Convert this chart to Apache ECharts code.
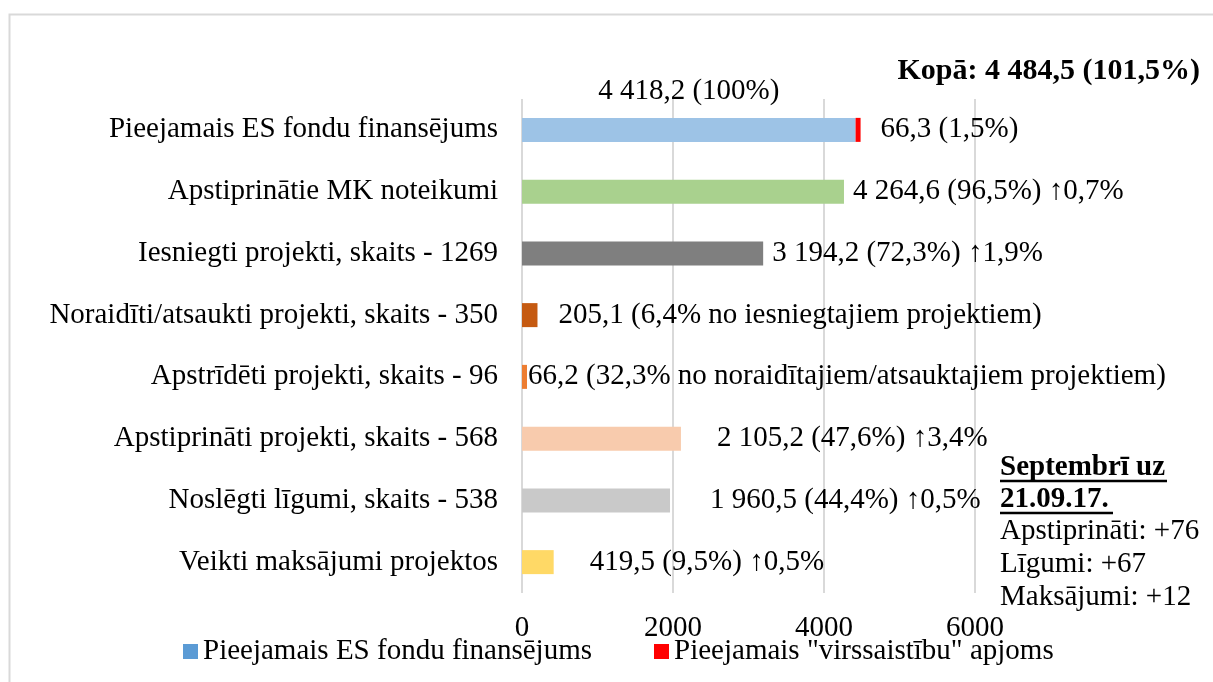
<!DOCTYPE html>
<html>
<head>
<meta charset="utf-8">
<script src="https://cdn.jsdelivr.net/npm/echarts@6/dist/echarts.min.js"></script>
<style>
html,body{margin:0;padding:0;background:#fff;}
#chart{width:1213px;height:682px;}
</style>
</head>
<body>
<div id="chart"></div>
<script>
const categories = [
  'Pieejamais ES fondu finansējums',
  'Apstiprinātie MK noteikumi',
  'Iesniegti projekti, skaits - 1269',
  'Noraidīti/atsaukti projekti, skaits - 350',
  'Apstrīdēti projekti, skaits - 96',
  'Apstiprināti projekti, skaits - 568',
  'Noslēgti līgumi, skaits - 538',
  'Veikti maksājumi projektos'
];
const mainValues = [4418.2, 4264.6, 3194.2, 205.1, 66.2, 2105.2, 1960.5, 419.5];
const overValues = [66.3, null, null, null, null, null, null, null];
const mainLabels = [
  '4 418,2 (100%)',
  '4 264,6 (96,5%) ↑0,7%',
  '3 194,2 (72,3%) ↑1,9%',
  '205,1 (6,4% no iesniegtajiem projektiem)',
  '66,2 (32,3% no noraidītajiem/atsauktajiem projektiem)',
  '2 105,2 (47,6%) ↑3,4%',
  '1 960,5 (44,4%) ↑0,5%',
  '419,5 (9,5%) ↑0,5%'
];
const overLabel = '66,3 (1,5%)';
const seriesNames = ['Pieejamais ES fondu finansējums', 'Pieejamais "virssaistību" apjoms'];
const totalText = 'Kopā: 4 484,5 (101,5%)';
const noteHead = ['Septembrī uz', '21.09.17.'];
const noteLines = ['Apstiprināti: +76', 'Līgumi: +67', 'Maksājumi: +12'];
const xTicks = {min: 0, max: 6000, interval: 2000};

// styling (not data)
const barColors = ['#9DC3E6', '#A9D18E', '#7F7F7F', '#C55A11', '#ED7D31', '#F8CBAD', '#C9C9C9', '#FFD966'];
const labelGaps = [12, 9, 9, 21, 1, 36, 40, 36];
const FONT = '"Liberation Serif", "Times New Roman", serif';
const FS = 29;

const mainData = mainValues.map((v, i) => ({
  value: v,
  itemStyle: {color: barColors[i]},
  label: {
    show: true,
    position: i === 0 ? 'top' : 'right',
    distance: labelGaps[i],
    formatter: mainLabels[i]
  }
}));
const overData = overValues.map(v => v == null ? {value: null} : {
  value: v,
  label: {show: true, position: 'right', distance: 20, formatter: overLabel}
});

const chart = echarts.init(document.getElementById('chart'), null, {renderer: 'canvas'});
const graphics = [
  {type: 'rect', left: 7, top: 12, shape: {width: 1300, height: 800},
   style: {fill: 'none', stroke: '#D9D9D9', lineWidth: 2}, silent: true, z: -1},
  {type: 'text', right: 13, top: 56,
   style: {text: totalText, font: 'bold 30px ' + FONT, fill: '#000'}},
];
noteHead.forEach((t, i) => {
  graphics.push({type: 'text', left: 1000, top: 453 + i * 32,
    style: {text: t, font: 'bold ' + FS + 'px ' + FONT, fill: '#000'}});
});
// underline for bold header lines
graphics.push({type: 'line', shape: {x1: 1000, y1: 481, x2: 1167, y2: 481}, style: {stroke: '#000', lineWidth: 2.5}});
graphics.push({type: 'line', shape: {x1: 1000, y1: 513, x2: 1113, y2: 513}, style: {stroke: '#000', lineWidth: 2.5}});
noteLines.forEach((t, i) => {
  graphics.push({type: 'text', left: 1000, top: 517 + i * 33,
    style: {text: t, font: FS + 'px ' + FONT, fill: '#000'}});
});

chart.setOption({
  animation: false,
  backgroundColor: '#fff',
  textStyle: {fontFamily: FONT},
  grid: {left: 522, right: 238, top: 99, height: 494, containLabel: false},
  legend: {
    data: seriesNames,
    left: 178, top: 632,
    itemWidth: 15, itemHeight: 15, itemGap: 62,
    icon: 'rect',
    textStyle: {fontFamily: FONT, fontSize: FS, color: '#000'}
  },
  xAxis: {
    type: 'value', min: xTicks.min, max: xTicks.max, interval: xTicks.interval,
    axisLine: {show: false}, axisTick: {show: false},
    splitLine: {show: true, lineStyle: {color: '#D9D9D9', width: 2}},
    axisLabel: {fontFamily: FONT, fontSize: FS, color: '#000', margin: 21,
      formatter: v => String(v)}
  },
  yAxis: {
    type: 'category', data: categories, inverse: true,
    axisLine: {show: false}, axisTick: {show: false},
    axisLabel: {fontFamily: FONT, fontSize: FS, color: '#000', margin: 24}
  },
  series: [
    {name: seriesNames[0], type: 'bar', stack: 's', barWidth: 24,
     itemStyle: {color: '#5B9BD5'},
     label: {fontFamily: FONT, fontSize: FS, color: '#000'},
     data: mainData},
    {name: seriesNames[1], type: 'bar', stack: 's', barWidth: 24,
     itemStyle: {color: '#FF0000'},
     label: {fontFamily: FONT, fontSize: FS, color: '#000'},
     data: overData}
  ],
  graphic: graphics
});
</script>
</body>
</html>
